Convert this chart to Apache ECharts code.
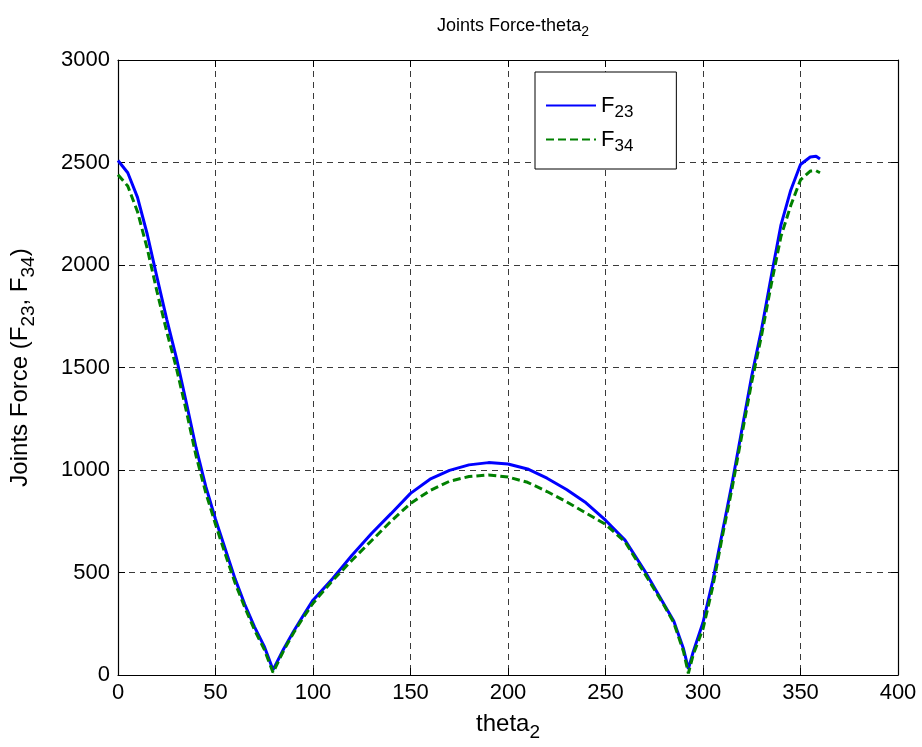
<!DOCTYPE html>
<html>
<head>
<meta charset="utf-8">
<script src="https://cdn.jsdelivr.net/npm/echarts@6/dist/echarts.min.js"></script>
<style>
html,body{margin:0;padding:0;background:#fff;}
#c{width:922px;height:747px;}
</style>
</head>
<body>
<div id="c"></div>
<script>
// theta_2 (deg)
const theta = [0,5,10,15,20,25,30,35,40,45,50,55,60,65,70,75,79.5,85,90,95,100,110,120,130,140,150,160,170,180,190,200,210,220,230,240,250,260,270,280,285,290,292.5,295,300,305,310,315,320,325,330,335,340,345,350,355,358,360];
const F23 = [2510,2450,2330,2150,1940,1735,1545,1330,1110,920,760,615,470,345,235,140,25,128,212,290,365,470,584,690,787,886,955,998,1025,1036,1029,1005,960,905,840,755,658,510,345,263,128,30,114,256,459,700,940,1200,1460,1685,1945,2196,2365,2490,2527,2530,2517];
const F34 = [2440,2385,2260,2080,1870,1675,1495,1290,1070,890,735,590,450,330,220,125,12,120,205,280,350,460,560,655,750,837,900,945,968,976,966,940,895,845,790,735,650,497,340,255,115,8,100,225,430,680,915,1175,1430,1655,1905,2140,2290,2415,2458,2460,2450];
const xTicks = {min:0, max:400, interval:50};
const yTicks = {min:0, max:3000, interval:500};

const chart = echarts.init(document.getElementById('c'), null, {renderer:'canvas'});
const font = 'Liberation Sans, Arial, Helvetica, sans-serif';
const pair = (xs, ys) => xs.map((x,i)=>[x, ys[i]]);
const gridLine = {show:true, lineStyle:{color:'#3a3a3a', type:[6,5], width:1}};
const baseAxis = {
  axisLine:{show:true, onZero:false, lineStyle:{color:'#000', width:1.2}},
  axisTick:{show:true, inside:true, length:7, lineStyle:{color:'#000'}},
};
chart.setOption({
  animation:false,
  backgroundColor:'#fff',
  title:{
    text:'Joints Force-theta{s|2}',
    left:508, top:8, textAlign:'center',
    textStyle:{fontFamily:font, fontSize:18, fontWeight:'normal', color:'#000',
      rich:{s:{fontFamily:font, fontSize:14, color:'#000', padding:[12,0,0,0]}}}
  },
  grid:{left:118, right:24, top:60, bottom:72, containLabel:false, outerBoundsMode:'none'},
  legend:{
    left:535, top:72, orient:'vertical',
    padding:[18,43,14,10],
    itemGap:3,
    itemWidth:50, itemHeight:14,
    backgroundColor:'#fff', borderColor:'#000', borderWidth:1,
    data:['F23','F34'],
    itemStyle:{color:'rgba(0,0,0,0)', borderColor:'rgba(0,0,0,0)', borderWidth:0},
    formatter: function(n){ return '{a|F}{s|' + n.slice(1) + '}'; },
    textStyle:{fontFamily:font, fontSize:22, color:'#000',
      rich:{a:{fontFamily:font, fontSize:22, color:'#000', lineHeight:26},
            s:{fontFamily:font, fontSize:17, color:'#000', padding:[14,0,0,0], lineHeight:26}}}
  },
  xAxis:[
    Object.assign({type:'value', position:'bottom', min:xTicks.min, max:xTicks.max, interval:xTicks.interval,
      name:'theta{s|2}', nameLocation:'middle', nameGap:32,
      nameTextStyle:{fontFamily:font, fontSize:24, color:'#000',
        rich:{s:{fontFamily:font, fontSize:19, color:'#000', padding:[16,0,0,0]}}},
      axisLabel:{fontFamily:font, fontSize:22, color:'#000', margin:7},
      splitLine:gridLine}, baseAxis),
    Object.assign({type:'value', position:'top', min:xTicks.min, max:xTicks.max, interval:xTicks.interval,
      axisLabel:{show:false}, splitLine:{show:false}}, baseAxis)
  ],
  yAxis:[
    Object.assign({type:'value', position:'left', min:yTicks.min, max:yTicks.max, interval:yTicks.interval,
      name:'Joints Force (F{s|23}, F{s|34})', nameLocation:'middle', nameGap:80,
      nameTextStyle:{fontFamily:font, fontSize:24, color:'#000',
        rich:{s:{fontFamily:font, fontSize:19, color:'#000', padding:[16,0,0,0]}}},
      axisLabel:{fontFamily:font, fontSize:22, color:'#000', margin:8, formatter:function(v){return String(v);}},
      splitLine:gridLine}, baseAxis),
    Object.assign({type:'value', position:'right', min:yTicks.min, max:yTicks.max, interval:yTicks.interval,
      axisLabel:{show:false}, splitLine:{show:false}}, baseAxis)
  ],
  series:[
    {name:'F23', type:'line', data:pair(theta,F23), showSymbol:false, symbol:'none', smooth:false,
     lineStyle:{color:'#0000ff', width:3, type:'solid'}, itemStyle:{color:'#0000ff'}, z:3},
    {name:'F34', type:'line', data:pair(theta,F34), showSymbol:false, symbol:'none', smooth:false,
     lineStyle:{color:'#008000', width:3, type:[8,4]}, itemStyle:{color:'#008000'}, z:4}
  ]
});
</script>
</body>
</html>
